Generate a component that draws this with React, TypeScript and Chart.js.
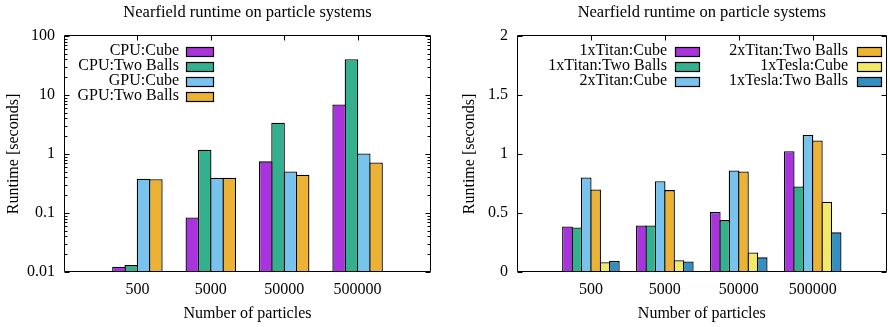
import React, { useEffect, useRef } from 'react';
import { Chart, registerables } from 'chart.js';

Chart.register(...registerables);

// ---------- data ----------
const categories = ['500', '5000', '50000', '500000'];

// left chart (log scale)
const cpuCube = [0.0123, 0.084, 0.75, 6.9];
const cpuTwoBalls = [0.0131, 1.18, 3.4, 40.5];
const gpuCube = [0.38, 0.395, 0.505, 1.02];
const gpuTwoBalls = [0.375, 0.395, 0.445, 0.72];

// right chart (linear scale)
const titan1Cube = [0.386, 0.395, 0.508, 1.024];
const titan1TwoBalls = [0.378, 0.395, 0.44, 0.725];
const titan2Cube = [0.801, 0.77, 0.86, 1.162];
const titan2TwoBalls = [0.7, 0.694, 0.852, 1.114];
const tesla1Cube = [0.082, 0.099, 0.166, 0.595];
const tesla1TwoBalls = [0.093, 0.09, 0.124, 0.336];

const logTickValues = [0.01, 0.1, 1, 10, 100];
const linTickValues = [0, 0.5, 1, 1.5, 2];

const TITLE = 'Nearfield runtime on particle systems';
const XTITLE = 'Number of particles';
const YTITLE = 'Runtime [seconds]';

const COLORS = {
  purple: 'rgb(169,51,220)',
  green: 'rgb(51,177,143)',
  sky: 'rgb(120,195,237)',
  orange: 'rgb(235,178,51)',
  yellow: 'rgb(243,233,104)',
  blue: 'rgb(51,142,193)',
};

const FONT = "'Liberation Serif', 'Times New Roman', serif";
const BORDER_W = 1.3;

const labels = ['', ...categories, ''];
const pad = (arr: number[]) => [null, ...arr, null];

const minorLogTicks: number[] = [];
for (let i = 0; i < logTickValues.length - 1; i++) {
  for (let k = 2; k <= 9; k++) minorLogTicks.push(logTickValues[i] * k);
}

type LegendCfg = {
  cols: { text: number; box: number }[];
  rowsPerCol: number;
  firstRow: number;
  rowGap: number;
  boxW: number;
  boxH: number;
};

const gnuPlugin = {
  id: 'gnuFrame',
  afterDatasetsDraw(chart: any, _args: any, opts: any) {
    const { ctx, chartArea: a, scales } = chart;
    const xs = scales.x;
    const ys = scales.y;
    const L = Math.round(a.left) + 0.5;
    const R = Math.round(a.right) - 0.5;
    const T = Math.round(a.top) - 0.5;
    const B = Math.round(a.bottom) - 0.5;
    ctx.save();
    ctx.strokeStyle = '#000';
    ctx.lineWidth = 1;
    ctx.beginPath();
    ctx.rect(L, T, R - L, B - T);
    const major = opts.majorLen || 5;
    const minor = opts.minorLen || 3;
    for (const t of ys.ticks) {
      const py = Math.round(ys.getPixelForValue(t.value)) + 0.5;
      ctx.moveTo(L, py); ctx.lineTo(L + major, py);
      ctx.moveTo(R, py); ctx.lineTo(R - major, py);
    }
    if (opts.minor) {
      for (const v of opts.minor as number[]) {
        const py = Math.round(ys.getPixelForValue(v)) + 0.5;
        ctx.moveTo(L, py); ctx.lineTo(L + minor, py);
        ctx.moveTo(R, py); ctx.lineTo(R - minor, py);
      }
    }
    const lbls = chart.data.labels as string[];
    lbls.forEach((lb, i) => {
      if (!lb) return;
      const px = Math.round(xs.getPixelForValue(i)) + 0.5;
      ctx.moveTo(px, T); ctx.lineTo(px, T + major);
    });
    ctx.stroke();

    const lg: LegendCfg = opts.legend;
    if (lg) {
      ctx.font = `16px ${FONT}`;
      ctx.textAlign = 'right';
      ctx.textBaseline = 'middle';
      chart.data.datasets.forEach((ds: any, i: number) => {
        const col = Math.floor(i / lg.rowsPerCol);
        const row = i % lg.rowsPerCol;
        const c = lg.cols[col];
        const y = a.top + lg.firstRow + row * lg.rowGap;
        ctx.fillStyle = '#000';
        ctx.fillText(ds.label, a.left + c.text, y);
        const bx = Math.round(a.left + c.box) + 0.5;
        const by = Math.round(y - lg.boxH / 2) + 0.5;
        ctx.fillStyle = ds.backgroundColor;
        ctx.fillRect(bx, by, lg.boxW, lg.boxH);
        ctx.strokeStyle = '#000';
        ctx.lineWidth = 1.2;
        ctx.strokeRect(bx, by, lg.boxW, lg.boxH);
      });
    }
    ctx.restore();
  },
};

function makeDataset(label: string, data: number[], color: string) {
  return {
    label,
    data: pad(data),
    backgroundColor: color,
    borderColor: '#000',
    borderWidth: BORDER_W,
    borderSkipped: 'start',
    inflateAmount: 0,
  };
}

function baseOptions(p: {
  yWidth: number;
  yTitlePad: number;
  padRight: number;
  catPct: number;
  barPct: number;
}) {
  return {
    responsive: false,
    animation: false,
    devicePixelRatio: 1,
    layout: { padding: { left: 0, right: p.padRight, top: 0, bottom: 0 } },
    categoryPercentage: p.catPct,
    barPercentage: p.barPct,
    plugins: {
      legend: { display: false },
      tooltip: { enabled: false },
      title: {
        display: true,
        text: TITLE,
        fullSize: false,
        color: '#000',
        font: { family: FONT, size: 16.5, weight: 'normal', lineHeight: 1.2 },
        padding: { top: 2.5, bottom: 13.7 },
      },
    },
    scales: {
      x: {
        type: 'category',
        offset: false,
        grid: { display: false, drawTicks: false },
        border: { display: false },
        ticks: {
          autoSkip: false,
          maxRotation: 0,
          padding: 8.4,
          color: '#000',
          font: { family: FONT, size: 16, lineHeight: 1.2 },
        },
        title: {
          display: true,
          text: XTITLE,
          color: '#000',
          font: { family: FONT, size: 16, lineHeight: 1.2 },
          padding: { top: 0, bottom: 3.4 },
        },
        afterFit(s: any) {
          s.height = 55;
        },
      },
      y: {
        grid: { display: false, drawTicks: false },
        border: { display: false },
        ticks: {
          padding: 9,
          color: '#000',
          font: { family: FONT, size: 16, lineHeight: 1.2 },
          callback: (v: any) => String(v),
        },
        title: {
          display: true,
          text: YTITLE,
          color: '#000',
          font: { family: FONT, size: 16, lineHeight: 1.2 },
          padding: { top: p.yTitlePad, bottom: 0 },
        },
        afterFit(s: any) {
          s.width = p.yWidth;
        },
      },
    },
  } as any;
}

function LeftChart() {
  const ref = useRef<HTMLCanvasElement>(null);
  useEffect(() => {
    if (!ref.current) return;
    // bars 12.3 px wide, overlapping neighbours by one border width
    const options = baseOptions({ yWidth: 64, yTitlePad: 4.4, padRight: 14, catPct: 0.67, barPct: (12.3 + BORDER_W) / 12.3 });
    options.scales.y.type = 'logarithmic';
    options.scales.y.min = logTickValues[0];
    options.scales.y.max = logTickValues[logTickValues.length - 1];
    options.scales.y.afterBuildTicks = (s: any) => {
      s.ticks = logTickValues.map((v) => ({ value: v }));
    };
    options.plugins.gnuFrame = {
      minor: minorLogTicks,
      majorLen: 5,
      minorLen: 3,
      legend: {
        cols: [{ text: 115, box: 122 }],
        rowsPerCol: 4,
        firstRow: 15,
        rowGap: 15,
        boxW: 27,
        boxH: 9,
      },
    };
    const chart = new Chart(ref.current, {
      type: 'bar',
      data: {
        labels,
        datasets: [
          makeDataset('CPU:Cube', cpuCube, COLORS.purple),
          makeDataset('CPU:Two Balls', cpuTwoBalls, COLORS.green),
          makeDataset('GPU:Cube', gpuCube, COLORS.sky),
          makeDataset('GPU:Two Balls', gpuTwoBalls, COLORS.orange),
        ],
      } as any,
      options,
      plugins: [gnuPlugin],
    });
    return () => chart.destroy();
  }, []);
  return <canvas ref={ref} width={445} height={327} style={{ display: 'block', width: 445, height: 327 }} />;
}

function RightChart() {
  const ref = useRef<HTMLCanvasElement>(null);
  useEffect(() => {
    if (!ref.current) return;
    const options = baseOptions({ yWidth: 72, yTitlePad: 15, padRight: 4, catPct: 0.762, barPct: (9.5 + BORDER_W) / 9.5 });
    options.scales.y.type = 'linear';
    options.scales.y.min = linTickValues[0];
    options.scales.y.max = linTickValues[linTickValues.length - 1];
    options.scales.y.afterBuildTicks = (s: any) => {
      s.ticks = linTickValues.map((v) => ({ value: v }));
    };
    options.plugins.gnuFrame = {
      majorLen: 5,
      legend: {
        cols: [
          { text: 150, box: 158 },
          { text: 331, box: 340 },
        ],
        rowsPerCol: 3,
        firstRow: 15,
        rowGap: 15,
        boxW: 24,
        boxH: 9,
      },
    };
    const chart = new Chart(ref.current, {
      type: 'bar',
      data: {
        labels,
        datasets: [
          makeDataset('1xTitan:Cube', titan1Cube, COLORS.purple),
          makeDataset('1xTitan:Two Balls', titan1TwoBalls, COLORS.green),
          makeDataset('2xTitan:Cube', titan2Cube, COLORS.sky),
          makeDataset('2xTitan:Two Balls', titan2TwoBalls, COLORS.orange),
          makeDataset('1xTesla:Cube', tesla1Cube, COLORS.yellow),
          makeDataset('1xTesla:Two Balls', tesla1TwoBalls, COLORS.blue),
        ],
      } as any,
      options,
      plugins: [gnuPlugin],
    });
    return () => chart.destroy();
  }, []);
  return <canvas ref={ref} width={450} height={327} style={{ display: 'block', width: 450, height: 327 }} />;
}

export default function App() {
  return (
    <div
      style={{
        position: 'fixed',
        left: 0,
        top: 0,
        width: 890,
        height: 327,
        overflow: 'hidden',
        background: '#fff',
      }}
    >
      <div style={{ position: 'absolute', left: 0, top: 0, width: 445, height: 327 }}>
        <LeftChart />
      </div>
      <div style={{ position: 'absolute', left: 445, top: 0, width: 450, height: 327 }}>
        <RightChart />
      </div>
    </div>
  );
}
